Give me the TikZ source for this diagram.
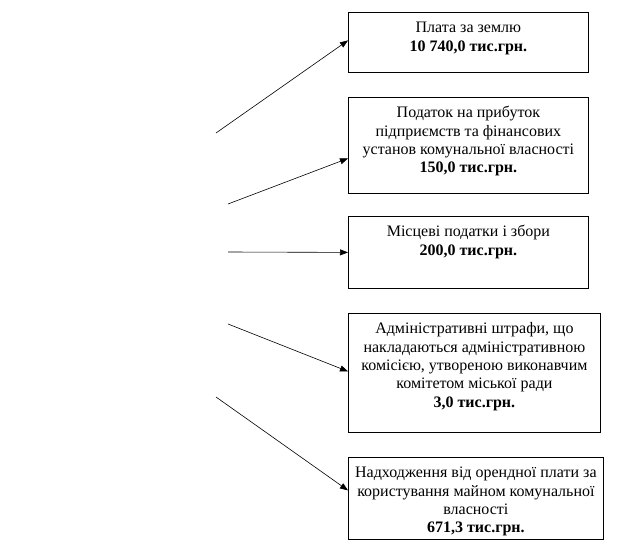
\documentclass[tikz,border=0pt]{standalone}
\usepackage{fontspec}
\setmainfont{Liberation Serif}
\usetikzlibrary{arrows.meta,calc}
\begin{document}
\begin{tikzpicture}[x=1pt,y=-1pt,
  box/.style={draw, line width=0.8pt, inner sep=0pt, anchor=north west},
  txt/.style={align=center, inner sep=0pt, anchor=north, font=\fontsize{16}{18.4}\selectfont},
  conn/.style={line width=0.6pt, -{Triangle[length=8pt,width=6pt]}}]
\useasboundingbox (0,0) rectangle (625,541);
% boxes
\node[box, minimum width=240pt, minimum height=60pt] (b1) at (348,12) {};
\node[box, minimum width=240pt, minimum height=96pt] (b2) at (348,97) {};
\node[box, minimum width=240pt, minimum height=72pt] (b3) at (348,216) {};
\node[box, minimum width=252pt, minimum height=119pt] (b4) at (348,313) {};
\node[box, minimum width=255pt, minimum height=82pt] (b5) at (348,457) {};
% texts
\node[txt] (t1) at ($(b1.north)+(0,7.5)$) {\rule{0pt}{13pt}Плата за землю\\ \textbf{10 740,0 тис.грн.}};
\node[txt] (t2) at ($(b2.north)+(0,7.5)$) {\rule{0pt}{13pt}Податок на прибуток\\ підприємств та фінансових\\ установ комунальної власності\\ \textbf{150,0 тис.грн.}};
\node[txt] (t3) at ($(b3.north)+(0,7.5)$) {\rule{0pt}{13pt}Місцеві податки і збори\\ \textbf{200,0 тис.грн.}};
\node[txt] (t4) at ($(b4.north)+(0,7.5)$) {\rule{0pt}{13pt}Адміністративні штрафи, що\\ накладаються адміністративною\\ комісією, утвореною виконавчим\\ комітетом міської ради\\ \textbf{3,0 тис.грн.}};
\node[txt] (t5) at ($(b5.north)+(0,7.5)$) {\rule{0pt}{13pt}Надходження від орендної плати за\\ користування майном комунальної\\ власності\\ \textbf{671,3 тис.грн.}};
% start points
\coordinate (s1) at (216,133);
\coordinate (s2) at (228,204);
\coordinate (s3) at (228,252);
\coordinate (s4) at (228,324);
\coordinate (s5) at (216,397);
% connectors
\draw[conn] (s1) -- ($(b1.west)+(0,-2)$);
\draw[conn] (s2) -- ($(b2.west)+(0,13)$);
\draw[conn] (s3) -- (b3.west);
\draw[conn] (s4) -- ($(b4.west)+(0,-1.5)$);
\draw[conn] (s5) -- ($(b5.west)+(0,-8)$);
\end{tikzpicture}
\end{document}
